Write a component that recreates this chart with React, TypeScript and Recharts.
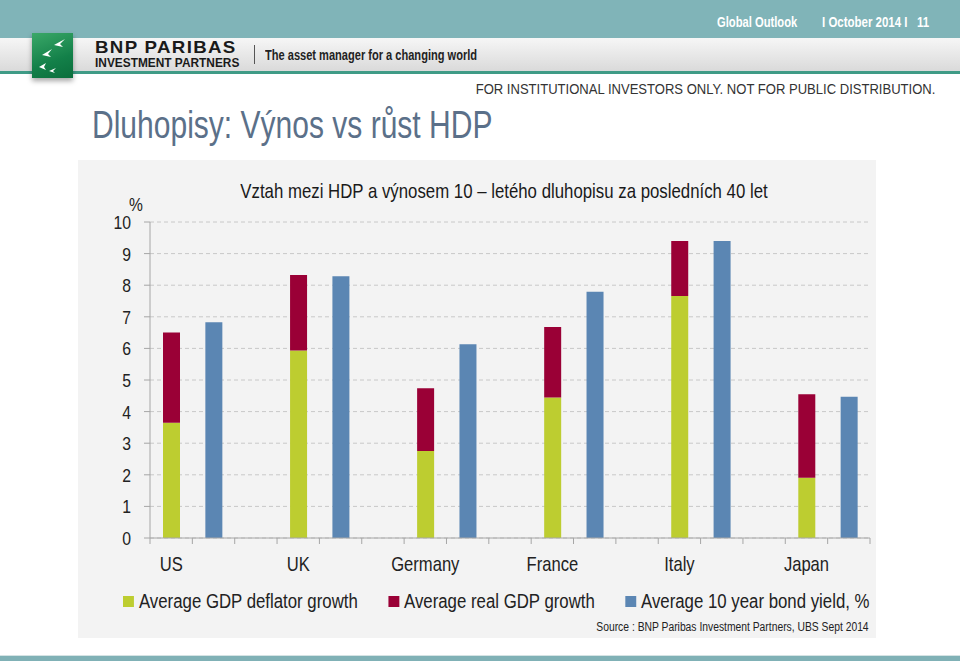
import React from "react";
import {
  BarChart,
  Bar,
  XAxis,
  YAxis,
  CartesianGrid,
  Legend,
} from "recharts";

// values in %
const countries = ["US", "UK", "Germany", "France", "Italy", "Japan"];
const deflatorGrowth = [3.65, 5.93, 2.75, 4.45, 7.66, 1.91];
const realGrowth = [2.85, 2.39, 1.99, 2.23, 1.74, 2.64];
const bondYield = [6.83, 8.28, 6.13, 7.79, 9.4, 4.47];
const yTicks = [0, 1, 2, 3, 4, 5, 6, 7, 8, 9, 10];
const legendOrder = ["deflator", "real", "yield"];

const FONT = "'Liberation Sans', Arial, sans-serif";
const NARROW = 0.83; // the slide uses a condensed face
const GREEN = "#bdcd30";
const CRIMSON = "#9a0036";
const BLUE = "#5b86b3";
const AXIS = "#a6a6a6";

// one slot per bar plus an empty slot between countries (like the excel layout)
const slots = countries.flatMap((c, i) => {
  const rows: any[] = [
    { slot: `${c}-gdp`, label: c, deflator: deflatorGrowth[i], real: realGrowth[i] },
    { slot: `${c}-yield`, label: "", yield: bondYield[i] },
  ];
  if (i < countries.length - 1) rows.push({ slot: `${c}-gap`, label: "" });
  return rows;
});

function SlotTick(props: any) {
  const { x, y, index, payload } = props;
  const half = payload?.offset ?? 21.2;
  const row = slots[index];
  const isLast = index === slots.length - 1;
  return (
    <g>
      <line x1={x - half} x2={x - half} y1={y} y2={y + 6} stroke={AXIS} />
      {isLast && <line x1={x + half} x2={x + half} y1={y} y2={y + 6} stroke={AXIS} />}
      {row?.label ? (
        <text
          transform={`translate(${x},${y + 33}) scale(${NARROW},1)`}
          textAnchor="middle"
          fontSize={20}
          fill="#222"
          fontFamily={FONT}
        >
          {row.label}
        </text>
      ) : null}
    </g>
  );
}

function YTick(props: any) {
  const { x, y, payload } = props;
  return (
    <text
      transform={`translate(${x},${y + 7}) scale(${NARROW},1)`}
      textAnchor="end"
      fontSize={19}
      fill="#222"
      fontFamily={FONT}
    >
      {payload.value}
    </text>
  );
}

function LegendBox(props: any) {
  const items = [...(props.payload || [])].sort(
    (a: any, b: any) => legendOrder.indexOf(a.dataKey) - legendOrder.indexOf(b.dataKey)
  );
  return (
    <div style={{ fontFamily: FONT, color: "#222", height: 60, position: "relative" }}>
      <div
        style={{
          position: "absolute",
          left: 45,
          top: 12,
          display: "flex",
          alignItems: "center",
          gap: 36,
          transform: "scaleX(0.84)",
          transformOrigin: "left center",
        }}
      >
        {items.map((it: any) => (
          <div key={it.value} style={{ display: "flex", alignItems: "center", gap: 6 }}>
            <span style={{ width: 13, height: 11, background: it.color, display: "inline-block" }} />
            <span style={{ fontSize: 20, lineHeight: "22px", whiteSpace: "nowrap" }}>{it.value}</span>
          </div>
        ))}
      </div>
      <div
        style={{
          position: "absolute",
          right: 1,
          top: 42,
          fontSize: 12,
          color: "#222",
          whiteSpace: "nowrap",
          transform: "scaleX(0.86)",
          transformOrigin: "right center",
        }}
      >
        Source : BNP Paribas Investment Partners, UBS Sept 2014
      </div>
    </div>
  );
}

function Logo() {
  return (
    <div
      style={{
        position: "absolute",
        left: 32,
        top: 33,
        width: 41,
        height: 45,
        background: "linear-gradient(160deg, #3aa868 0%, #138049 60%, #0b6e3c 100%)",
        boxShadow: "0 3px 5px rgba(0,0,0,0.35)",
      }}
    >
      <svg width={41} height={45}>
        <path d="M22 12 L33 6 L28 11 L31 14 Z" fill="#fff" />
        <path d="M10 22 L20 16 L16 21 L19 24 Z" fill="#fff" />
        <path d="M7 34 L14 30 L12 34 L14 37 Z" fill="#fff" />
        <path d="M17 38 L24 35 L21 38 L23 40 Z" fill="#fff" />
      </svg>
    </div>
  );
}

const squeeze = (s: number, origin = "left center"): React.CSSProperties => ({
  transform: `scaleX(${s})`,
  transformOrigin: origin,
  whiteSpace: "nowrap",
});

export default function App() {
  return (
    <div
      style={{
        position: "relative",
        width: 960,
        height: 661,
        background: "#fff",
        overflow: "hidden",
        fontFamily: FONT,
      }}
    >
      <style>{"body{margin:0}"}</style>

      {/* header */}
      <div style={{ position: "absolute", left: 0, top: 0, width: 960, height: 38, background: "#80b4b8" }} />
      <div
        style={{
          position: "absolute",
          left: 0,
          top: 38,
          width: 960,
          height: 33,
          background: "linear-gradient(#f6f6f6, #dadada)",
        }}
      />
      <div style={{ position: "absolute", left: 0, top: 71, width: 960, height: 3, background: "#3f9b86" }} />
      <div style={{ position: "absolute", left: 717, top: 14, fontSize: 14, fontWeight: "bold", color: "#fff", ...squeeze(0.8) }}>
        Global Outlook
      </div>
      <div style={{ position: "absolute", left: 822, top: 14, fontSize: 14, fontWeight: "bold", color: "#fff", ...squeeze(0.82), whiteSpace: "pre" }}>
        {"I October 2014 I   11"}
      </div>
      <Logo />
      <div style={{ position: "absolute", left: 95, top: 41, fontSize: 17, fontWeight: "bold", color: "#1a1a1a", lineHeight: "14px", letterSpacing: 1.2, ...squeeze(1.1) }}>
        BNP PARIBAS
      </div>
      <div style={{ position: "absolute", left: 95, top: 58, fontSize: 12, fontWeight: "bold", color: "#1a1a1a", lineHeight: "11px", ...squeeze(0.99) }}>
        INVESTMENT PARTNERS
      </div>
      <div style={{ position: "absolute", left: 254, top: 45, width: 1, height: 19, background: "#555" }} />
      <div style={{ position: "absolute", left: 265, top: 47, fontSize: 14, fontWeight: "bold", color: "#222", ...squeeze(0.79) }}>
        The asset manager for a changing world
      </div>
      <div style={{ position: "absolute", right: 25, top: 80, fontSize: 15, color: "#333", ...squeeze(0.87, "right center") }}>
        FOR INSTITUTIONAL INVESTORS ONLY. NOT FOR PUBLIC DISTRIBUTION.
      </div>
      <div style={{ position: "absolute", left: 92, top: 104, fontSize: 38, color: "#5b7089", ...squeeze(0.79) }}>
        Dluhopisy: Výnos vs růst HDP
      </div>

      {/* chart panel */}
      <div style={{ position: "absolute", left: 78, top: 160, width: 798, height: 478, background: "#f3f3f3" }}>
        <div
          style={{
            position: "absolute",
            left: 0,
            width: 852,
            top: 19,
            textAlign: "center",
            fontSize: 21,
            color: "#1a1a1a",
            ...squeeze(0.8, "426px center"),
          }}
        >
          Vztah mezi HDP a výnosem 10 – letého dluhopisu za posledních 40 let
        </div>
        <div style={{ position: "absolute", left: 51, top: 34, fontSize: 19, color: "#222", ...squeeze(0.82) }}>%</div>
        <BarChart
          width={798}
          height={478}
          data={slots}
          margin={{ top: 62, right: 6, left: 0, bottom: 0 }}
          barSize={17}
        >
          <CartesianGrid vertical={false} stroke="#c8c8c8" strokeDasharray="4 3" />
          <XAxis
            dataKey="slot"
            interval={0}
            height={40}
            tickLine={false}
            tickSize={0}
            tickMargin={0}
            axisLine={{ stroke: AXIS }}
            tick={<SlotTick />}
          />
          <YAxis
            domain={[0, 10]}
            ticks={yTicks}
            width={72}
            tickSize={6}
            tickMargin={13}
            tickLine={{ stroke: AXIS }}
            axisLine={{ stroke: AXIS }}
            tick={<YTick />}
          />
          <Legend verticalAlign="bottom" content={<LegendBox />} />
          <Bar dataKey="deflator" name="Average GDP deflator growth" stackId="s" fill={GREEN} isAnimationActive={false} />
          <Bar dataKey="real" name="Average real GDP growth" stackId="s" fill={CRIMSON} isAnimationActive={false} />
          <Bar dataKey="yield" name="Average 10 year bond yield, %" stackId="s" fill={BLUE} isAnimationActive={false} />
        </BarChart>
      </div>

      {/* footer band */}
      <div style={{ position: "absolute", left: 0, top: 655, width: 960, height: 1, background: "#d5e3e4" }} />
      <div style={{ position: "absolute", left: 0, top: 656, width: 960, height: 5, background: "#80b1b6" }} />
    </div>
  );
}
